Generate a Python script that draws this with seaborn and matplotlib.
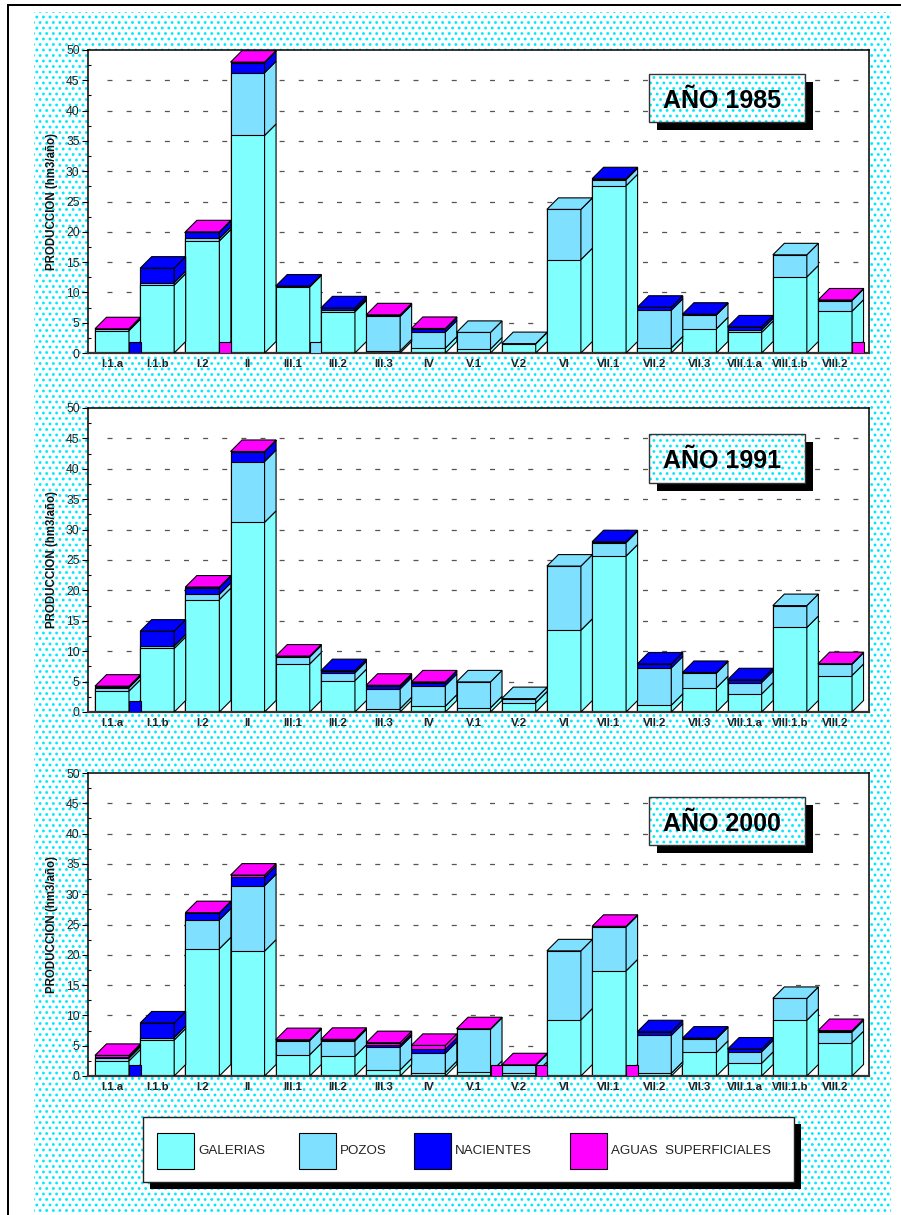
import numpy as np
import matplotlib
matplotlib.use("Agg")
import matplotlib.pyplot as plt
import seaborn as sns
from matplotlib.patches import Polygon, Rectangle

# ---------------------------------------------------------------- data
cats = ["I.1.a", "I.1.b", "I.2", "II", "III.1", "III.2", "III.3", "IV", "V.1",
        "V.2", "VI", "VII.1", "VII.2", "VII.3", "VIII.1.a", "VIII.1.b", "VIII.2"]
sources = ["GALERIAS", "POZOS", "NACIENTES", "AGUAS  SUPERFICIALES"]
years = ["1985", "1991", "2000"]

galerias_1985 = [3.7, 11.2, 18.5, 35.9, 10.9, 6.8, 0.35, 0.8, 0.65, 1.5, 15.4, 27.6, 0.85, 4.0, 3.4, 12.55, 6.9]
pozos_1985 = [0.2, 0.4, 0.4, 10.35, 0.0, 0.25, 5.7, 2.65, 2.75, 0.05, 8.3, 1.0, 6.2, 2.3, 0.45, 3.65, 1.75]
nacientes_1985 = [0.0, 2.4, 1.0, 1.65, 0.15, 0.4, 0.0, 0.5, 0.0, 0.0, 0.0, 0.15, 0.5, 0.1, 0.45, 0.0, 0.0]
aguas_1985 = [0.1, 0.0, 0.1, 0.1, 0.0, 0.0, 0.25, 0.1, 0.0, 0.0, 0.0, 0.0, 0.0, 0.0, 0.0, 0.0, 0.1]

galerias_1991 = [3.45, 10.45, 18.5, 31.2, 7.9, 5.15, 0.55, 0.95, 0.7, 1.5, 13.45, 25.65, 1.1, 4.0, 2.95, 13.9, 6.0]
pozos_1991 = [0.55, 0.4, 0.85, 10.0, 1.15, 1.3, 3.25, 3.4, 4.25, 0.7, 10.55, 2.2, 6.15, 2.4, 1.9, 3.6, 1.85]
nacientes_1991 = [0.1, 2.45, 1.1, 1.55, 0.0, 0.35, 0.4, 0.5, 0.0, 0.0, 0.0, 0.15, 0.65, 0.1, 0.45, 0.0, 0.0]
aguas_1991 = [0.15, 0.0, 0.1, 0.1, 0.15, 0.0, 0.2, 0.1, 0.0, 0.0, 0.0, 0.0, 0.0, 0.0, 0.0, 0.0, 0.1]

galerias_2000 = [2.5, 5.95, 21.0, 20.6, 3.5, 3.25, 1.0, 0.55, 0.6, 0.45, 9.25, 17.35, 0.45, 3.9, 2.1, 9.2, 5.5]
pozos_2000 = [0.45, 0.4, 4.75, 10.8, 2.35, 2.55, 3.75, 3.2, 7.1, 1.3, 11.4, 7.25, 6.25, 2.25, 1.9, 3.6, 1.8]
nacientes_2000 = [0.2, 2.4, 1.1, 1.4, 0.0, 0.1, 0.35, 0.65, 0.0, 0.0, 0.0, 0.0, 0.6, 0.1, 0.45, 0.0, 0.05]
aguas_2000 = [0.25, 0.0, 0.1, 0.35, 0.15, 0.15, 0.4, 0.65, 0.1, 0.1, 0.0, 0.1, 0.0, 0.0, 0.0, 0.0, 0.15]

# coloured blocks at the foot of some side faces (source index per category)
base_1985 = {"I.1.a": 2, "I.2": 3, "III.1": 1, "VIII.2": 3}
base_1991 = {"I.1.a": 2}
base_2000 = {"I.1.a": 2, "V.1": 3, "V.2": 3, "VII.1": 3}

series = {
    "1985": [galerias_1985, pozos_1985, nacientes_1985, aguas_1985],
    "1991": [galerias_1991, pozos_1991, nacientes_1991, aguas_1991],
    "2000": [galerias_2000, pozos_2000, nacientes_2000, aguas_2000],
}
bases = {"1985": base_1985, "1991": base_1991, "2000": base_2000}

colors = ["#80FFFF", "#80E0FF", "#0000FF", "#FF00FF"]

# ---------------------------------------------------------------- styling
sns.set_theme(style="white")
plt.rcParams["font.family"] = ["Liberation Sans", "DejaVu Sans"]

W, H = 901, 1215
fig = plt.figure(figsize=(W / 100, H / 100), dpi=100)


def dot_texture(h, w):
    """White field covered with a staggered grid of cyan dots."""
    yy, xx = np.mgrid[0:h, 0:w].astype(float)
    sy, sx = 5.5, 6.6
    best = np.full((h, w), np.inf)
    for dr in (0, 1):
        r = np.floor(yy / sy) + dr
        cy = r * sy
        shift = (r % 2) * sx / 2
        cx = np.round((xx - shift) / sx) * sx + shift
        best = np.minimum(best, np.hypot(xx - cx, yy - cy))
    a = np.clip(1.9 - best, 0, 1)
    img = np.ones((h, w, 3))
    img[..., 0] = 1 - a
    img[..., 1] = 1 - 0.08 * a
    return img


tex = dot_texture(H, W)
bg = np.ones((H, W, 3))
bg[12:1212, 34:891] = tex[12:1212, 34:891]
bg[4:6, 7:] = 0.0
bg[4:, 7:9] = 0.0
fig.figimage(bg, 0, 0, origin="upper", zorder=-10)

# ---------------------------------------------------------------- panels
panel_px = [(50, 353), (408, 712), (773, 1076)]
left_px, right_px = 88, 869
slot_px = 45.19
bar_w = 34 / slot_px
depth_px = 11.5
xlim = (-bar_w / 2 - 7 / slot_px, -bar_w / 2 + (right_px - left_px - 7) / slot_px)

n = len(cats)
for year, (top, bot) in zip(years, panel_px):
    ax = fig.add_axes([left_px / W, 1 - bot / H, (right_px - left_px) / W, (bot - top) / H])
    ax.set_facecolor("white")
    vals = np.array(series[year], dtype=float)
    cum = np.cumsum(vals, axis=0)

    # front faces: cumulative stacks, tallest first
    for j in range(3, -1, -1):
        sns.barplot(x=cats, y=cum[j], order=cats, color=colors[j], saturation=1,
                    width=bar_w, edgecolor="black", linewidth=0.8, errorbar=None,
                    ax=ax, zorder=2)

    ax.set_xlim(*xlim)
    ax.set_ylim(0, 50)
    dx = depth_px / slot_px
    dy = depth_px / ((bot - top) / 50)

    # side and top faces
    for i in range(n):
        R = i + bar_w / 2
        L = i - bar_w / 2
        lower = 0.0
        top_j = 0
        for j in range(4):
            upper = cum[j, i]
            if vals[j, i] > 0:
                ax.add_patch(Polygon([(R, lower), (R + dx, lower + dy), (R + dx, upper + dy), (R, upper)],
                                     closed=True, fc=colors[j], ec="black", lw=0.8, zorder=3))
                top_j = j
            lower = upper
        T = cum[3, i]
        ax.add_patch(Polygon([(L, T), (R, T), (R + dx, T + dy), (L + dx, T + dy)],
                             closed=True, fc=colors[top_j], ec="black", lw=0.8, zorder=3))
    for cat, j in bases[year].items():
        i = cats.index(cat)
        ax.add_patch(Rectangle((i + bar_w / 2, 0), dx, dy, fc=colors[j], ec="black", lw=0.8, zorder=3))

    # dashed horizontal guides
    gx0 = xlim[0] + 18.7 / slot_px
    for v in range(5, 50, 5):
        ax.plot([gx0, xlim[1]], [v, v], color="#555555", lw=0.9,
                linestyle=(0, (4.0, 11.3)), zorder=1)

    ax.set_yticks(np.arange(0, 51, 5))
    ax.set_yticks(np.arange(2.5, 50, 5), minor=True)
    ax.set_yticklabels([str(v) for v in range(0, 51, 5)], fontsize=8.7, color="#222222")
    ax.set_xticks(range(n))
    ax.set_xticklabels(cats, fontsize=8.2, fontweight="bold", color="#222222")
    ax.tick_params(axis="y", which="major", direction="out", length=4, width=0.8,
                   left=True, pad=2, color="black")
    ax.tick_params(axis="y", which="minor", direction="in", length=2, width=0.8,
                   left=True, color="black")
    ax.tick_params(axis="x", length=0, pad=4.5)
    ax.set_xlabel("")
    ax.set_ylabel("PRODUCCION (hm3/año)", fontsize=8.3, fontweight="bold", color="#111111")
    ax.yaxis.set_label_coords(-0.039, 0.5)
    for side in ["left", "top", "right"]:
        ax.spines[side].set_color("black")
        ax.spines[side].set_linewidth(1.1)
        ax.spines[side].set_visible(True)
    ax.spines["bottom"].set_color("#333333")
    ax.spines["bottom"].set_linewidth(1.6)
    ax.grid(False)

# ---------------------------------------------------------------- overlay: year boxes and legend
ov = fig.add_axes([0, 0, 1, 1], zorder=5)
ov.patch.set_alpha(0)
ov.axis("off")

title_boxes = [(74, 48), (434, 49), (797, 48)]
bx0, bw = 649, 156
for year, (by, bh) in zip(years, title_boxes):
    ov.add_patch(Rectangle((bx0 + 8, by + 8), bw, bh, fc="black", ec="none", zorder=1))
    ov.imshow(tex[by:by + bh, bx0:bx0 + bw], extent=(bx0, bx0 + bw, by + bh, by),
              interpolation="nearest", aspect="auto", zorder=2)
    ov.add_patch(Rectangle((bx0, by), bw, bh, fill=False, ec="#333333", lw=1, zorder=3))
    ov.text(bx0 + 73, by + bh / 2 + 3, f"AÑO {year}", fontsize=18, fontweight="bold",
            ha="center", va="center", color="black", zorder=4)

lx, ly, lw_, lh = 143, 1117, 651, 65
ov.add_patch(Rectangle((lx + 7, ly + 7), lw_, lh, fc="black", ec="none", zorder=1))
ov.add_patch(Rectangle((lx, ly), lw_, lh, fc="white", ec="#222222", lw=1, zorder=2))
patch_x = [157, 299, 414, 570]
for px, name, c in zip(patch_x, sources, colors):
    ov.add_patch(Rectangle((px, 1133), 37, 36, fc=c, ec="black", lw=0.8, zorder=3))
    ov.text(px + 41, 1151, name, fontsize=9.6, ha="left", va="center", color="#222222", zorder=4)

ov.set_xlim(0, W)
ov.set_ylim(H, 0)

fig.savefig("out.png", dpi=100)
